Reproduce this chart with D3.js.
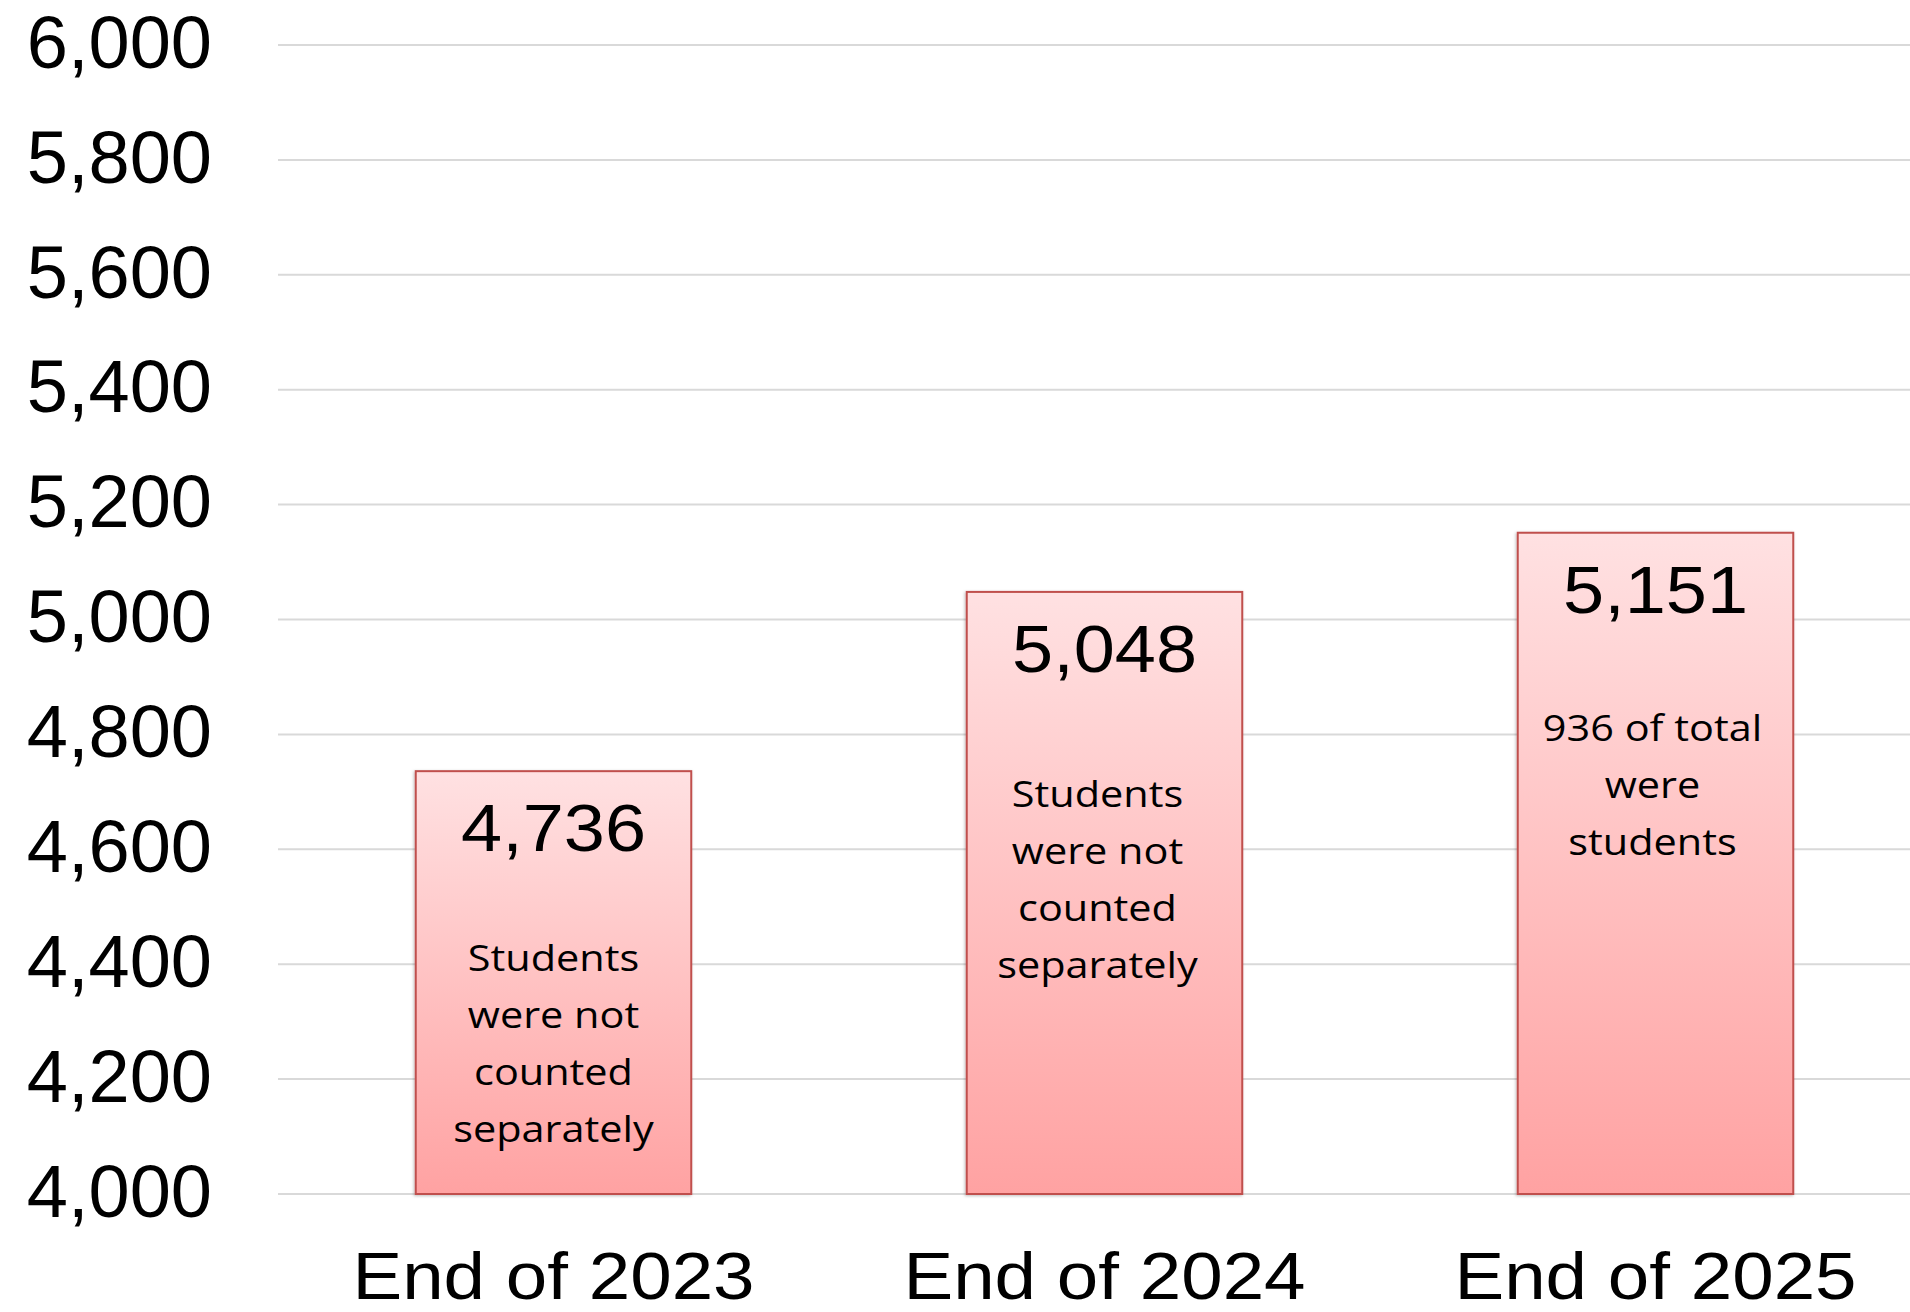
<!DOCTYPE html>
<html>
<head>
<meta charset="utf-8">
<script src="https://cdn.jsdelivr.net/npm/d3@7"></script>
<style>
  body { margin: 0; background: #fff; }
  svg { display: block; }
</style>
</head>
<body>
<svg id="chart"></svg>
<script>
// chart data
const periods = ["End of 2023", "End of 2024", "End of 2025"];
const totals = [4736, 5048, 5151];
const notes = [
  ["Students", "were not", "counted", "separately"],
  ["Students", "were not", "counted", "separately"],
  ["936 of total", "were", "students"]
];
const yTicks = [4000, 4200, 4400, 4600, 4800, 5000, 5200, 5400, 5600, 5800, 6000];

// layout
const width = 1910;
const height = 1312;
const plotLeft = 278;
const plotRight = 1931;
const plotTop = 45;
const plotBottom = 1194;
const noteGap = [200, 215, 208]; // distance from bar top to first note line
const noteShift = [0, -7, -3]; // small horizontal nudge of the note text

const svg = d3.select("#chart").attr("width", width).attr("height", height);

const x = d3.scaleBand()
  .domain(periods)
  .range([plotLeft, plotRight])
  .paddingInner(0.5)
  .paddingOuter(0.25);

const y = d3.scaleLinear()
  .domain([4000, 6000])
  .range([plotBottom, plotTop]);

const fmt = d3.format(",");

// gradient + soft shadow for the bars
const defs = svg.append("defs");
const grad = defs.append("linearGradient")
  .attr("id", "barFill")
  .attr("x1", 0).attr("y1", 0).attr("x2", 0).attr("y2", 1);
grad.append("stop").attr("offset", "0%").attr("stop-color", "#ffe1e2");
grad.append("stop").attr("offset", "100%").attr("stop-color", "#ffa2a2");

const shadow = defs.append("filter").attr("id", "shadow")
  .attr("x", "-10%").attr("y", "-10%").attr("width", "120%").attr("height", "120%");
shadow.append("feDropShadow")
  .attr("dx", -1).attr("dy", 1).attr("stdDeviation", 1.5)
  .attr("flood-color", "#000").attr("flood-opacity", 0.25);

// gridlines
svg.append("g")
  .selectAll("line")
  .data(yTicks)
  .join("line")
  .attr("x1", plotLeft)
  .attr("x2", width)
  .attr("y1", (d) => y(d))
  .attr("y2", (d) => y(d))
  .attr("stroke", "#d9d9d9")
  .attr("stroke-width", 2);

// y axis labels
const yAxis = svg.append("g")
  .attr("transform", `translate(212,0)`)
  .call(d3.axisLeft(y).tickValues(yTicks).tickFormat(fmt).tickSize(0).tickPadding(0));
yAxis.select(".domain").remove();
yAxis.selectAll("text")
  .attr("dy", "0.30em")
  .style("font-family", "'Liberation Sans', Arial, sans-serif")
  .style("font-size", "74px")
  .style("fill", "#000");

// bars
svg.append("g")
  .selectAll("rect")
  .data(totals)
  .join("rect")
  .attr("x", (d, i) => x(periods[i]))
  .attr("y", (d) => y(d))
  .attr("width", x.bandwidth())
  .attr("height", (d) => y(4000) - y(d))
  .attr("fill", "url(#barFill)")
  .attr("stroke", "#c0504d")
  .attr("stroke-width", 2)
  .attr("filter", "url(#shadow)");

// value labels inside the bars
svg.append("g")
  .selectAll("text")
  .data(totals)
  .join("text")
  .attr("transform", (d, i) =>
    `translate(${x(periods[i]) + x.bandwidth() / 2},${y(d) + 80}) scale(1.12,1)`)
  .attr("text-anchor", "middle")
  .style("font-family", "'Liberation Sans', Arial, sans-serif")
  .style("font-size", "66px")
  .text((d) => fmt(d));

// notes inside the bars
notes.forEach((lines, i) => {
  const cx = x(periods[i]) + x.bandwidth() / 2 + noteShift[i];
  const top = y(totals[i]) + noteGap[i];
  svg.append("g")
    .selectAll("text")
    .data(lines)
    .join("text")
    .attr("transform", (d, j) => `translate(${cx},${top + j * 57}) scale(1.12,1)`)
    .attr("text-anchor", "middle")
    .style("font-family", "'Open Sans', 'Noto Sans', sans-serif")
    .style("font-size", "37px")
    .text((d) => d);
});

// x axis labels
svg.append("g")
  .selectAll("text")
  .data(periods)
  .join("text")
  .attr("transform", (d) => `translate(${x(d) + x.bandwidth() / 2},1299) scale(1.13,1)`)
  .attr("text-anchor", "middle")
  .style("font-family", "'Liberation Sans', Arial, sans-serif")
  .style("font-size", "66px")
  .text((d) => d);
</script>
</body>
</html>
